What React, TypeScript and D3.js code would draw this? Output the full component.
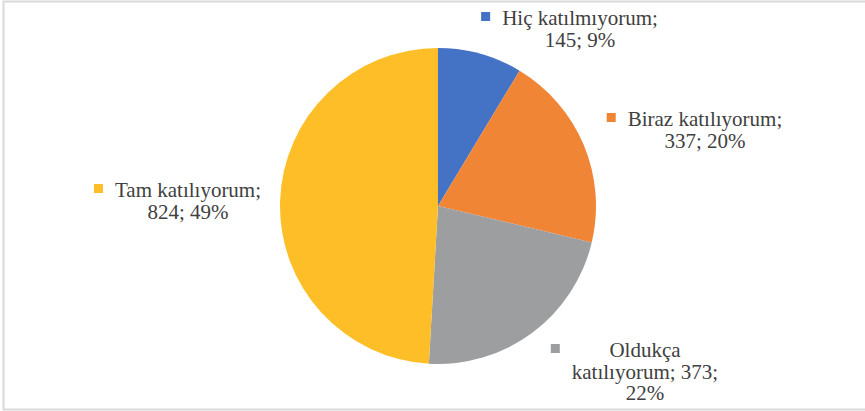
import React, { useMemo } from "react";
import * as d3 from "d3";

// answer categories and counts, clockwise from 12 o'clock
const categories = ["Hiç katılmıyorum", "Biraz katılıyorum", "Oldukça katılıyorum", "Tam katılıyorum"];
const counts = [145, 337, 373, 824];
const colors = ["#4472C4", "#F08536", "#9D9E9F", "#FDBE27"];

const W = 865;
const H = 411;
const FAMILY = "Liberation Serif";
const SIZE = 21;

// where each label block sits: centre x, first baseline
const labelPos = [
  { x: 580, y: 25 },
  { x: 705, y: 126 },
  { x: 645, y: 357 },
  { x: 188, y: 197 },
];

function wrap(text: string, maxW: number, ctx: CanvasRenderingContext2D) {
  const words = text.split(" ");
  const lines: string[] = [];
  let cur = "";
  words.forEach((w) => {
    const test = cur ? cur + " " + w : w;
    if (cur && ctx.measureText(test).width > maxW) {
      lines.push(cur);
      cur = w;
    } else {
      cur = test;
    }
  });
  if (cur) lines.push(cur);
  return lines;
}

export default function App() {
  const cx = 438;
  const cy = 206;
  const r = 158;

  const total = d3.sum(counts);
  const pie = d3.pie<number>().sort(null).value((d) => d);
  const arcs = pie(counts);
  const arc = d3.arc<d3.PieArcDatum<number>>().innerRadius(0).outerRadius(r);

  const labels = useMemo(() => {
    const canvas = document.createElement("canvas");
    const ctx = canvas.getContext("2d")!;
    ctx.font = `${SIZE}px "${FAMILY}"`;
    return categories.map((c, i) => {
      const pct = Math.round((counts[i] / total) * 100);
      const lines = wrap(`${c}; ${counts[i]}; ${pct}%`, 160, ctx);
      const widest = d3.max(lines, (l) => ctx.measureText(l).width) || 0;
      return { lines, widest };
    });
  }, [total]);

  const lineH = 21.5;

  return (
    <svg
      width={W}
      height={H}
      style={{ position: "absolute", left: 0, top: 0, display: "block", background: "#fff" }}
    >
      <rect x={3.5} y={1.5} width={900} height={408} fill="#fff" stroke="#d9d9d9" strokeWidth={2} />
      <g transform={`translate(${cx},${cy})`}>
        {arcs.map((a, i) => (
          <path key={i} d={arc(a) || ""} fill={colors[i]} />
        ))}
      </g>
      {labels.map((lb, i) => {
        const p = labelPos[i];
        const left = p.x - lb.widest / 2;
        return (
          <g key={i}>
            <rect x={left - 21} y={p.y - 13} width={9} height={9} fill={colors[i]} />
            {lb.lines.map((l, j) => (
              <text
                key={j}
                x={p.x}
                y={p.y + j * lineH}
                textAnchor="middle"
                fill="#404040"
                fontFamily={FAMILY}
                fontSize={SIZE}
              >
                {l}
              </text>
            ))}
          </g>
        );
      })}
    </svg>
  );
}
